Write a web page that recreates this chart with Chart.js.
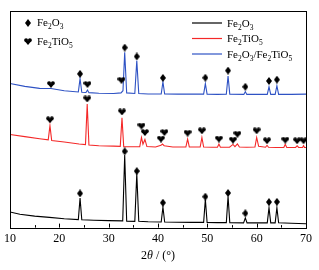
<!DOCTYPE html>
<html>
<head>
<meta charset="utf-8">
<script src="https://cdn.jsdelivr.net/npm/chart.js@4.4.1/dist/chart.umd.min.js"></script>
<style>
  html, body { margin: 0; padding: 0; background: #fff; }
  #wrap { width: 319px; height: 270px; }
</style>
</head>
<body>
<div id="wrap"><canvas id="xrd" width="319" height="270"></canvas></div>
<script>
// 2theta / intensity (arbitrary units, 0-1000)
const blackX = [10, 12, 15, 18, 21, 23.85, 24.2, 24.55, 27, 30, 32.85, 33.25, 33.65, 35.3, 35.7, 36.1, 38, 40.65, 41.0, 41.35, 44, 47, 49.25, 49.6, 49.95, 52, 53.85, 54.2, 54.55, 57.35, 57.7, 58.05, 60, 62.15, 62.5, 62.85, 63.75, 64.1, 64.45, 67, 70];
const blackY = [72, 62, 53, 47, 41, 37, 136, 36, 34, 32, 31, 335, 30, 29, 249, 29, 27, 26, 95, 26, 25, 24, 24, 131, 24, 23, 23, 145, 23, 22, 45, 22, 22, 22, 92, 22, 22, 92, 22, 20, 18];

const redX = [10, 13, 16, 17.75, 18.1, 18.45, 21, 24, 25.3, 25.65, 26.0, 28, 31, 32.35, 32.7, 33.05, 35, 36.3, 36.65, 36.95, 37.35, 37.75, 39.5, 40.6, 40.9, 41.25, 43, 45.65, 46.0, 46.35, 48.55, 48.9, 49.25, 51, 52.05, 52.35, 52.65, 54.5, 55.2, 55.6, 56.1, 56.5, 58, 59.65, 60.0, 60.4, 61.8, 62.1, 62.4, 64, 65.5, 65.8, 66.1, 67.9, 68.2, 68.5, 69.3, 69.5, 69.7, 70];
const redY = [430, 420, 410, 405, 471, 402, 395, 386, 383, 570, 381, 378, 376, 375, 507, 374, 373, 374, 416, 385, 407, 374, 372, 380, 386, 378, 372, 372, 409, 372, 372, 416, 372, 371, 371, 386, 371, 371, 384, 374, 386, 372, 371, 372, 416, 375, 371, 380, 371, 370, 370, 385, 370, 370, 378, 370, 370, 378, 370, 370];

const blueX = [10, 13, 16, 18.3, 21, 23.85, 24.2, 24.55, 25.4, 25.7, 26.0, 28, 31, 32.5, 32.9, 33.25, 33.65, 35.3, 35.7, 36.1, 38, 40.65, 41.0, 41.35, 44, 47, 49.25, 49.6, 49.95, 52, 53.85, 54.2, 54.55, 57.4, 57.7, 58.0, 60, 62.15, 62.5, 62.85, 63.75, 64.1, 64.45, 67, 70];
const blueY = [665, 652, 643, 642, 632, 626, 688, 625, 624, 635, 623, 620, 619, 622, 632, 809, 622, 619, 771, 619, 617, 617, 673, 617, 616, 616, 616, 665, 616, 615, 616, 700, 616, 615, 628, 615, 615, 615, 650, 615, 615, 655, 615, 615, 616];

// phase markers
const blackDiaX = [24.2, 33.25, 35.7, 41.0, 49.6, 54.2, 57.7, 62.5, 64.1];
const blackDiaY = [158, 352, 261, 115, 143, 160, 66, 118, 119];
const redHeartX = [18.1, 25.65, 32.7, 36.65, 37.35, 40.6, 41.3, 46.0, 48.9, 52.35, 55.2, 56.1, 60.0, 62.1, 65.8, 68.2, 69.5];
const redHeartY = [498, 594, 534, 469, 439, 409, 439, 436, 447, 409, 404, 431, 447, 401, 404, 401, 401];
const blueDiaX = [24.2, 33.25, 35.7, 41.0, 49.6, 54.2, 57.7, 62.5, 64.1];
const blueDiaY = [710, 831, 790, 691, 692, 725, 650, 677, 683];
const blueHeartX = [18.3, 25.7, 32.6];
const blueHeartY = [661, 661, 680];

const xTicks = [10, 20, 30, 40, 50, 60, 70];

const BLACK = '#000000';
const RED = 'rgb(244,40,40)';
const BLUE = 'rgb(46,82,196)';
const SERIF = '"Liberation Serif", "Times New Roman", serif';

function pts(xs, ys) {
  return xs.map((x, i) => ({ x: x, y: ys[i] }));
}

// glyphs used as point styles
function diamondGlyph() {
  const c = document.createElement('canvas');
  c.width = 6; c.height = 8;
  const g = c.getContext('2d');
  g.fillStyle = '#000';
  g.beginPath();
  g.moveTo(3, 0); g.lineTo(6, 4); g.lineTo(3, 8); g.lineTo(0, 4);
  g.closePath(); g.fill();
  return c;
}
function heartGlyph() {
  const c = document.createElement('canvas');
  c.width = 8; c.height = 7;
  const g = c.getContext('2d');
  g.fillStyle = '#000';
  g.beginPath();
  g.arc(2.1, 2.1, 1.95, 0, Math.PI * 2);
  g.arc(5.9, 2.1, 1.95, 0, Math.PI * 2);
  g.fill();
  g.beginPath();
  g.moveTo(0.2, 2.6); g.lineTo(7.8, 2.6); g.lineTo(4, 7);
  g.closePath(); g.fill();
  return c;
}
const DIA = diamondGlyph();
const HEART = heartGlyph();

function lineSet(label, xs, ys, color) {
  return { label: label, data: pts(xs, ys), borderColor: color, borderWidth: 1.1,
           pointRadius: 0, tension: 0, fill: false, order: 2 };
}
function markSet(xs, ys, glyph) {
  return { type: 'scatter', data: pts(xs, ys), pointStyle: glyph, pointRadius: 4,
           showLine: false, order: 1 };
}

// text with subscript digits
function subText(ctx, parts, x, y, size) {
  let cx = x;
  parts.forEach(p => {
    const sub = /^[0-9]$/.test(p);
    ctx.font = (sub ? size * 0.68 : size) + 'px ' + SERIF;
    ctx.fillText(p, cx, sub ? y + size * 0.3 : y);
    cx += ctx.measureText(p).width;
  });
}

const decor = {
  id: 'decor',
  afterDraw(chart) {
    const ctx = chart.ctx;
    const a = chart.chartArea;
    const xs = chart.scales.x;
    ctx.save();
    ctx.strokeStyle = '#000';
    ctx.lineWidth = 1;
    ctx.strokeRect(Math.round(a.left) + 0.5, Math.round(a.top) + 0.5,
                   Math.round(a.right - a.left), Math.round(a.bottom - a.top));
    // inward ticks on bottom axis
    for (let v = 10; v <= 70; v += 5) {
      const px = Math.round(xs.getPixelForValue(v)) + 0.5;
      const len = v % 10 === 0 ? 4 : 2.5;
      ctx.beginPath();
      ctx.moveTo(px, a.bottom);
      ctx.lineTo(px, a.bottom - len);
      ctx.stroke();
    }
    // axis title
    ctx.fillStyle = '#000';
    ctx.textBaseline = 'middle';
    const parts = [['2', 'normal'], ['\u03b8', 'italic'], [' / (\u00b0)', 'normal']];
    let w = 0;
    parts.forEach(p => { ctx.font = p[1] + ' 12px ' + SERIF; w += ctx.measureText(p[0]).width; });
    let tx = (a.left + a.right) / 2 - w / 2;
    parts.forEach(p => {
      ctx.font = p[1] + ' 12px ' + SERIF;
      ctx.fillText(p[0], tx, 256);
      tx += ctx.measureText(p[0]).width;
    });
    // symbol legend (top left)
    ctx.drawImage(DIA, 25, 19);
    ctx.drawImage(HEART, 24, 38);
    ctx.textBaseline = 'alphabetic';
    subText(ctx, ['Fe', '2', 'O', '3'], 37, 26, 11);
    subText(ctx, ['Fe', '2', 'Ti', 'O', '5'], 37, 45, 11);
    // line legend (top right)
    const rows = [
      [BLACK, ['Fe', '2', 'O', '3'], 23],
      [RED, ['Fe', '2', 'Ti', 'O', '5'], 38.5],
      [BLUE, ['Fe', '2', 'O', '3', '/Fe', '2', 'Ti', 'O', '5'], 54]
    ];
    rows.forEach(r => {
      ctx.strokeStyle = r[0];
      ctx.lineWidth = 1.2;
      ctx.beginPath();
      ctx.moveTo(192, r[2]);
      ctx.lineTo(222, r[2]);
      ctx.stroke();
      ctx.fillStyle = '#000';
      subText(ctx, r[1], 227, r[2] + 3.5, 11);
    });
    ctx.restore();
  }
};

new Chart(document.getElementById('xrd'), {
  type: 'line',
  data: {
    datasets: [
      lineSet('Fe2O3', blackX, blackY, BLACK),
      lineSet('Fe2TiO5', redX, redY, RED),
      lineSet('Fe2O3/Fe2TiO5', blueX, blueY, BLUE),
      markSet(blackDiaX, blackDiaY, DIA),
      markSet(redHeartX, redHeartY, HEART),
      markSet(blueDiaX, blueDiaY, DIA),
      markSet(blueHeartX, blueHeartY, HEART)
    ]
  },
  options: {
    responsive: false,
    animation: false,
    layout: { padding: { left: 7, right: 13, top: 11, bottom: 20 } },
    plugins: { legend: { display: false }, tooltip: { enabled: false } },
    scales: {
      x: {
        type: 'linear', min: 10, max: 70,
        afterBuildTicks: s => { s.ticks = xTicks.map(v => ({ value: v })); },
        grid: { display: false, drawTicks: false },
        border: { display: false },
        ticks: { color: '#000', padding: 4, maxRotation: 0,
                 font: { family: SERIF, size: 12 } }
      },
      y: { display: false, min: 0, max: 1000 }
    }
  },
  plugins: [decor]
});
</script>
</body>
</html>
